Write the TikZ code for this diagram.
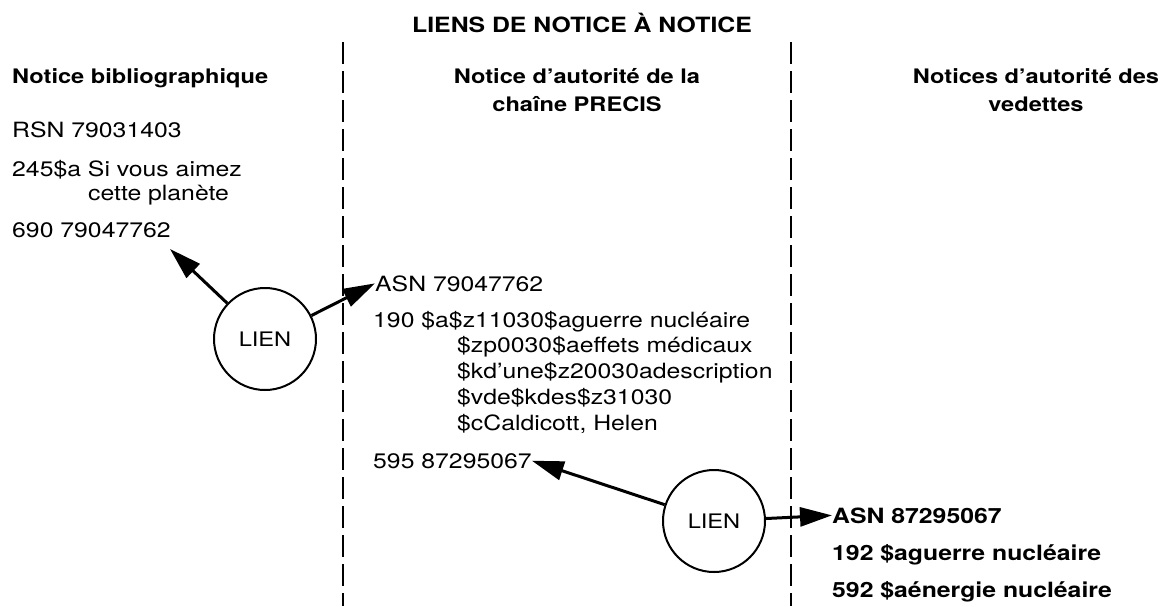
\documentclass[tikz,border=0pt]{standalone}
\usepackage{fontspec}
\setmainfont{TeX Gyre Heros}[FakeStretch=1.18]
\usetikzlibrary{arrows.meta}
\tikzset{
  txt/.style={inner sep=0pt, anchor=base west, font=\fontsize{21}{26}\selectfont},
  bld/.style={inner sep=0pt, anchor=base west, font=\bfseries\fontsize{21}{26}\selectfont},
  head/.style={inner sep=0pt, anchor=base, align=center, font=\bfseries\fontsize{20}{28}\selectfont},
  divider/.style={line width=2.4pt, dash pattern=on 22pt off 7pt},
  lien/.style={circle, draw, line width=2pt, minimum size=102pt, inner sep=0pt, font=\fontsize{20}{24}\selectfont},
  link/.style={line width=3pt, -{Triangle[length=32pt,width=19pt]}}
}
\begin{document}
\begin{tikzpicture}[x=1pt,y=-1pt]
\useasboundingbox (0,0) rectangle (1175,606);
% title
\node[inner sep=0pt, anchor=base, font=\bfseries\fontsize{21}{26}\selectfont] (title) at (582,32) {LIENS DE NOTICE À NOTICE};
% dividers
\coordinate (d1t) at (343,42);
\coordinate (d1b) at (343,606);
\coordinate (d2t) at (791,42);
\coordinate (d2b) at (791,606);
\draw[divider] (d1t) -- (d1b);
\draw[divider] (d2t) -- (d2b);
% left column
\node[bld, font=\bfseries\fontsize{20}{26}\selectfont] (h1) at (12,83) {Notice bibliographique};
\node[txt] (rsn) at (12,137) {RSN 79031403};
\node[txt] (t245) at (12,176) {245\$a Si vous aimez};
\node[txt] (t245b) at (88,200) {cette planète};
\node[txt] (t690) at (12,237) {690 79047762};
% middle column (base anchor = baseline of the last line)
\node[head] (h2) at (577,111) {Notice d’autorité de la\\chaîne PRECIS};
\node[txt] (asn1) at (375,291) {ASN 79047762};
\node[txt] (t190) at (373,327) {190 \$a\$z11030\$aguerre nucléaire};
\node[txt, align=left, anchor=north west] (t190b) at (457,336) {\$zp0030\$aeffets médicaux\\\$kd’une\$z20030adescription\\\$vde\$kdes\$z31030\\\$cCaldicott, Helen};
\node[txt] (t595) at (373,468) {595 87295067};
% right column
\node[head] (h3) at (1036,111) {Notices d’autorité des\\vedettes};
\node[bld] (asn2) at (832,523) {ASN 87295067};
\node[bld] (t192) at (832,560) {192 \$aguerre nucléaire};
\node[bld] (t592) at (832,597) {592 \$aénergie nucléaire};
% links
\node[lien] (l1) at (265,339) {LIEN};
\node[lien] (l2) at (714,521) {LIEN};
\coordinate (p690) at (170,249);
\draw[link] (l1) -- (p690);
\draw[link] (l1) -- (asn1.west);
\draw[link] (l2) -- (t595.east);
\draw[link] (l2) -- (asn2.west);
\end{tikzpicture}
\end{document}
